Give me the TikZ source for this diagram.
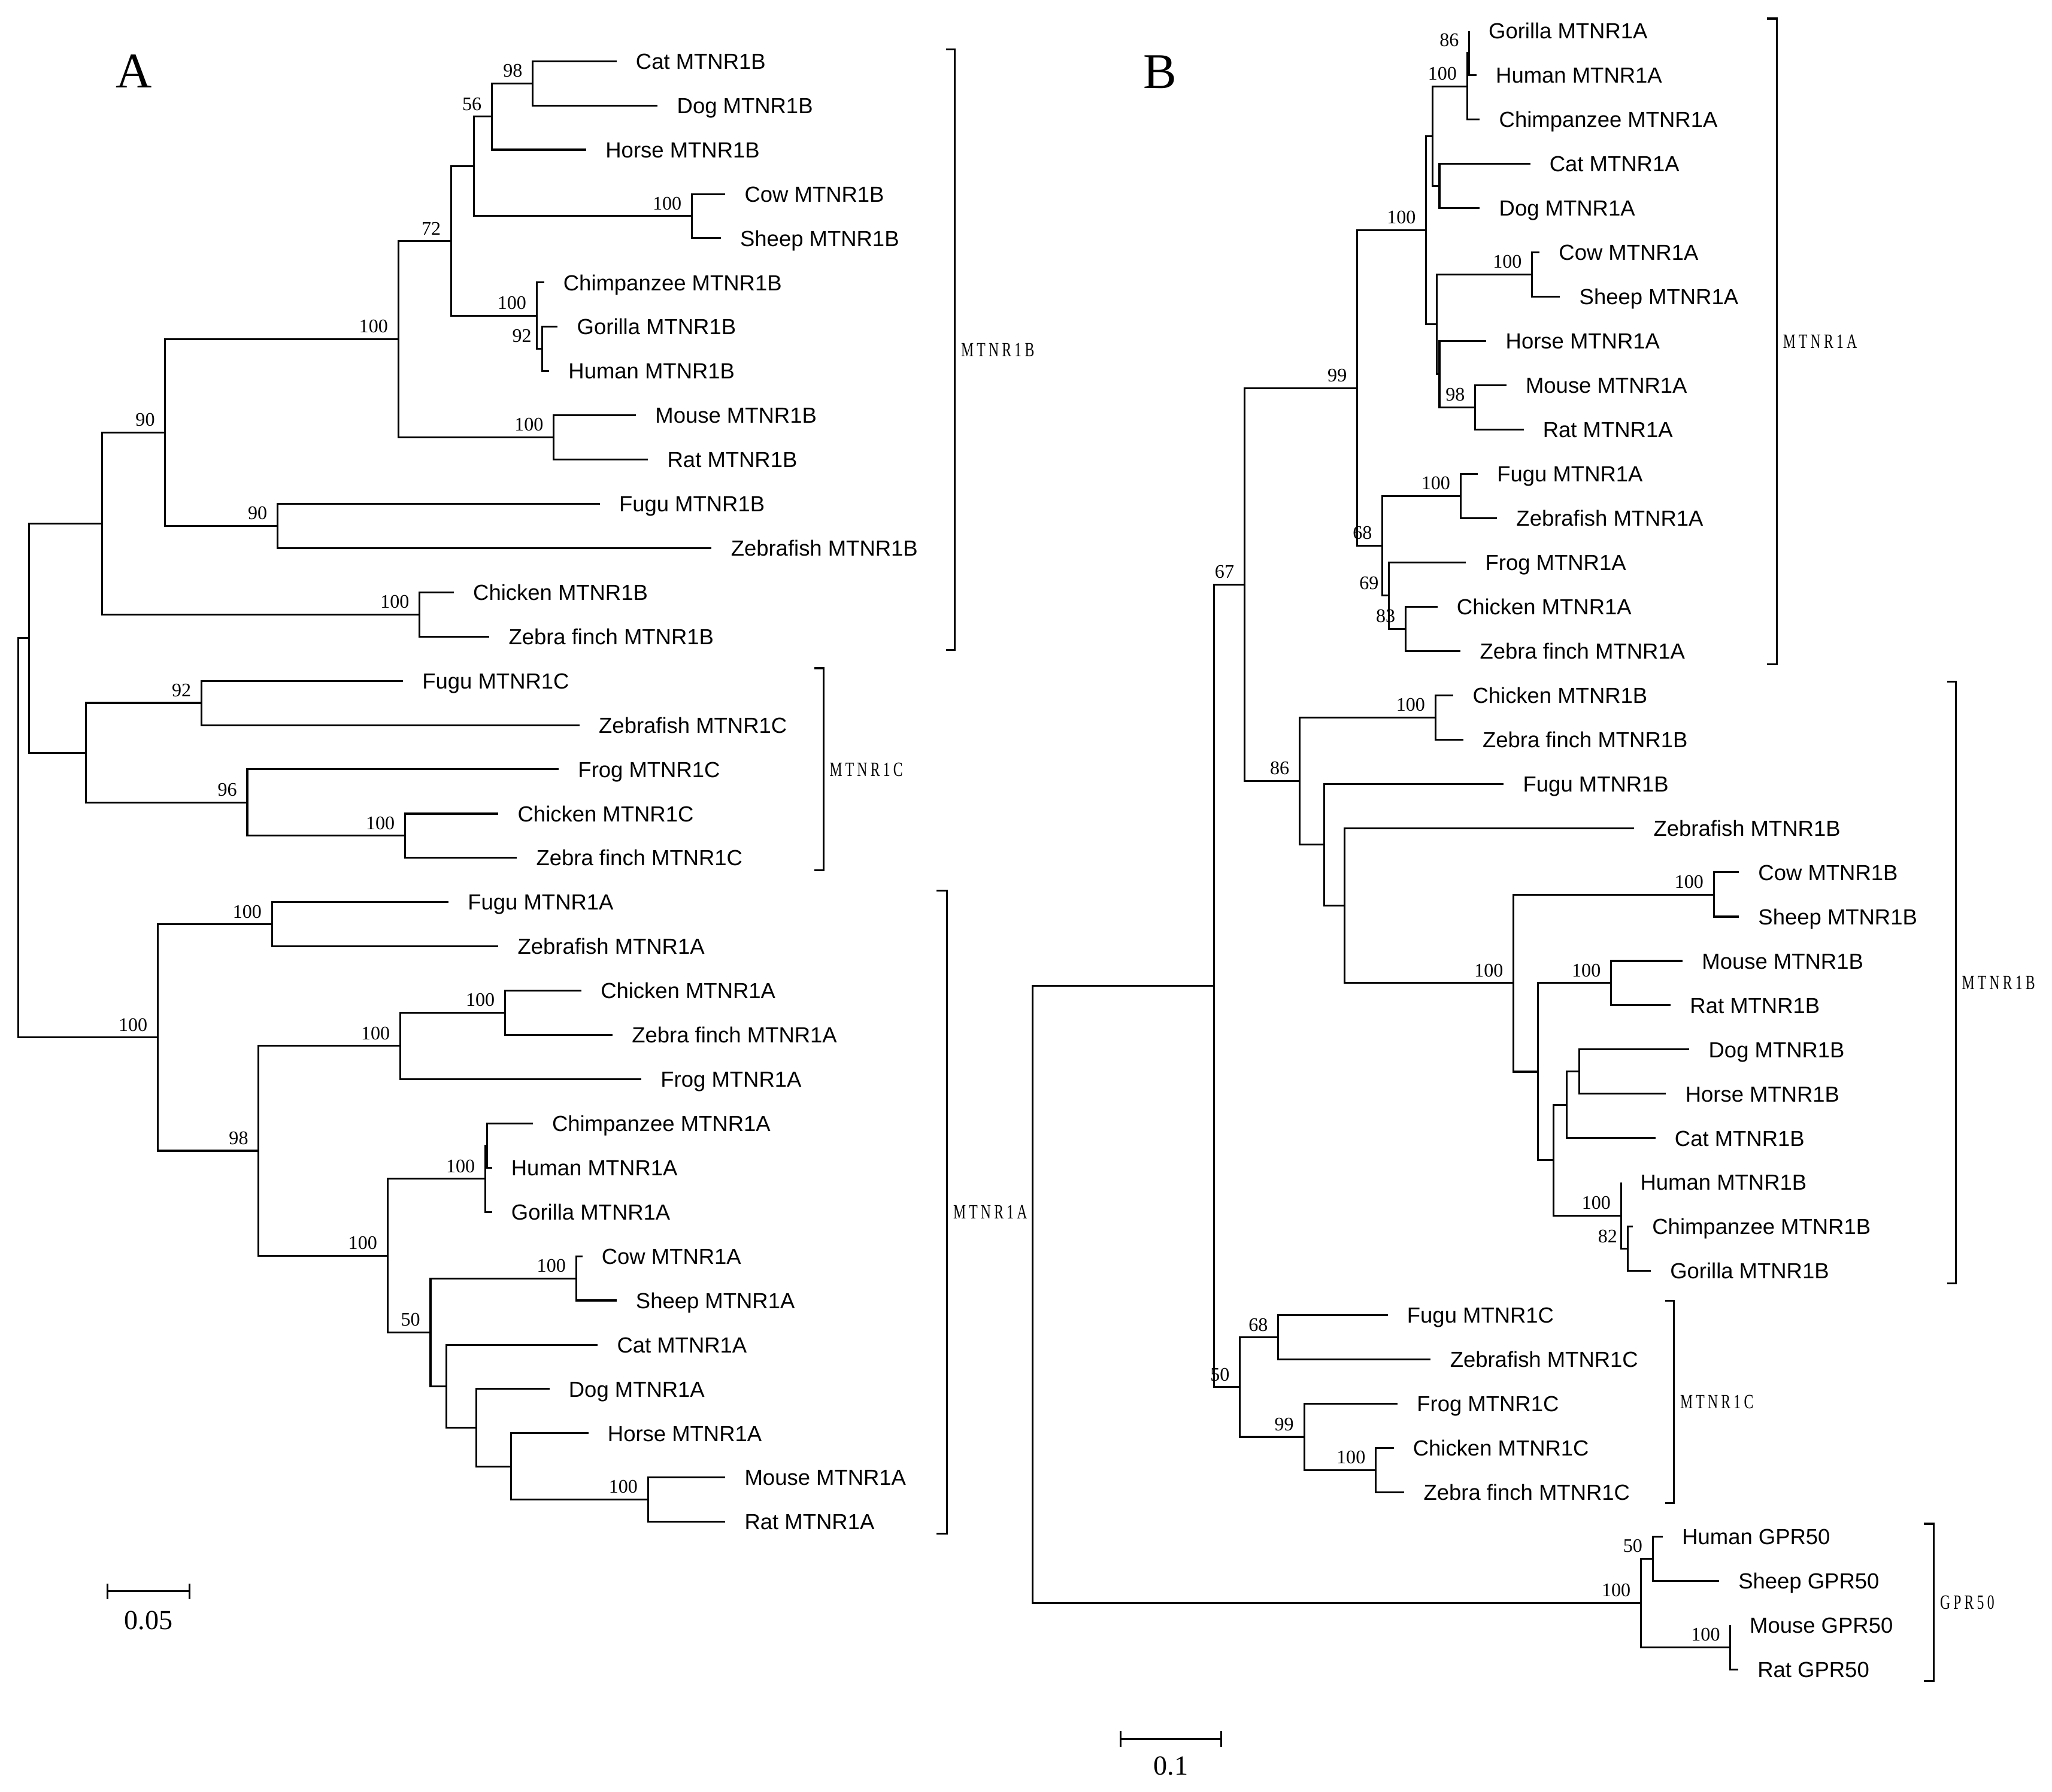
\documentclass[tikz,border=0pt]{standalone}
\usepackage{fontspec}
\usepackage{graphicx}
\setmainfont{Liberation Serif}
\newfontfamily\taxonfont{Liberation Sans}
\newfontfamily\cladefont[LetterSpace=22]{Liberation Serif}
\usetikzlibrary{positioning}
\newcommand{\cladetext}[1]{\scalebox{0.7}[1]{\cladefont\fontsize{7.7}{9}\selectfont #1}}
\begin{document}
\begin{tikzpicture}[x=0.5pt,y=-0.5pt,line width=0.7pt,
	taxon/.style={font=\taxonfont\fontsize{8.3}{10}\selectfont,text height=6pt,text depth=0pt},
	boot/.style={anchor=south east,xshift=-3.6pt,yshift=2pt,font=\fontsize{7.3}{8}\selectfont},
	clade/.style={text height=5.1pt,text depth=0pt},
	panel/.style={anchor=base,font=\fontsize{19}{22}\selectfont},
	scalelab/.style={anchor=base,font=\fontsize{10.5}{12}\selectfont}]
		\tikzstyle{every node}+=[inner sep=0pt]
		\useasboundingbox (0,0) rectangle (1560,1362);
		\node[panel] (pA) at (102,66.8) {A};
		\node[panel] (pB) at (882,67) {B};
		% tree A
		\coordinate (tA0) at (468.7,46.5);
		\coordinate (tA1) at (500,80.2);
		\coordinate (tA2) at (445.7,113.8);
		\coordinate (tA3) at (551.4,147.5);
		\coordinate (tA4) at (548,181.1);
		\coordinate (tA5) at (413.6,214.8);
		\coordinate (tA6) at (424,248.4);
		\coordinate (tA7) at (417.5,282.1);
		\coordinate (tA8) at (483.5,315.7);
		\coordinate (tA9) at (492.7,349.4);
		\coordinate (tA10) at (456,383);
		\coordinate (tA11) at (541,416.7);
		\coordinate (tA12) at (345,450.3);
		\coordinate (tA13) at (372,484);
		\coordinate (tA14) at (306.4,517.6);
		\coordinate (tA15) at (440.6,551.3);
		\coordinate (tA16) at (424.8,584.9);
		\coordinate (tA17) at (378.9,618.6);
		\coordinate (tA18) at (393,652.2);
		\coordinate (tA19) at (341,685.9);
		\coordinate (tA20) at (378.9,719.5);
		\coordinate (tA21) at (442,753.2);
		\coordinate (tA22) at (465.7,786.8);
		\coordinate (tA23) at (487.6,820.5);
		\coordinate (tA24) at (405,854.1);
		\coordinate (tA25) at (374,887.8);
		\coordinate (tA26) at (374,921.4);
		\coordinate (tA27) at (442.7,955.1);
		\coordinate (tA28) at (468.7,988.7);
		\coordinate (tA29) at (454.4,1022.4);
		\coordinate (tA30) at (417.7,1056);
		\coordinate (tA31) at (447.3,1089.7);
		\coordinate (tA32) at (551.4,1123.3);
		\coordinate (tA33) at (551.4,1157);
		\node[taxon,right=7pt of tA0] (lA0) {Cat MTNR1B};
		\node[taxon,right=7pt of tA1] (lA1) {Dog MTNR1B};
		\node[taxon,right=7pt of tA2] (lA2) {Horse MTNR1B};
		\node[taxon,right=7pt of tA3] (lA3) {Cow MTNR1B};
		\node[taxon,right=7pt of tA4] (lA4) {Sheep MTNR1B};
		\node[taxon,right=7pt of tA5] (lA5) {Chimpanzee MTNR1B};
		\node[taxon,right=7pt of tA6] (lA6) {Gorilla MTNR1B};
		\node[taxon,right=7pt of tA7] (lA7) {Human MTNR1B};
		\node[taxon,right=7pt of tA8] (lA8) {Mouse MTNR1B};
		\node[taxon,right=7pt of tA9] (lA9) {Rat MTNR1B};
		\node[taxon,right=7pt of tA10] (lA10) {Fugu MTNR1B};
		\node[taxon,right=7pt of tA11] (lA11) {Zebrafish MTNR1B};
		\node[taxon,right=7pt of tA12] (lA12) {Chicken MTNR1B};
		\node[taxon,right=7pt of tA13] (lA13) {Zebra finch MTNR1B};
		\node[taxon,right=7pt of tA14] (lA14) {Fugu MTNR1C};
		\node[taxon,right=7pt of tA15] (lA15) {Zebrafish MTNR1C};
		\node[taxon,right=7pt of tA16] (lA16) {Frog MTNR1C};
		\node[taxon,right=7pt of tA17] (lA17) {Chicken MTNR1C};
		\node[taxon,right=7pt of tA18] (lA18) {Zebra finch MTNR1C};
		\node[taxon,right=7pt of tA19] (lA19) {Fugu MTNR1A};
		\node[taxon,right=7pt of tA20] (lA20) {Zebrafish MTNR1A};
		\node[taxon,right=7pt of tA21] (lA21) {Chicken MTNR1A};
		\node[taxon,right=7pt of tA22] (lA22) {Zebra finch MTNR1A};
		\node[taxon,right=7pt of tA23] (lA23) {Frog MTNR1A};
		\node[taxon,right=7pt of tA24] (lA24) {Chimpanzee MTNR1A};
		\node[taxon,right=7pt of tA25] (lA25) {Human MTNR1A};
		\node[taxon,right=7pt of tA26] (lA26) {Gorilla MTNR1A};
		\node[taxon,right=7pt of tA27] (lA27) {Cow MTNR1A};
		\node[taxon,right=7pt of tA28] (lA28) {Sheep MTNR1A};
		\node[taxon,right=7pt of tA29] (lA29) {Cat MTNR1A};
		\node[taxon,right=7pt of tA30] (lA30) {Dog MTNR1A};
		\node[taxon,right=7pt of tA31] (lA31) {Horse MTNR1A};
		\node[taxon,right=7pt of tA32] (lA32) {Mouse MTNR1A};
		\node[taxon,right=7pt of tA33] (lA33) {Rat MTNR1A};
		\coordinate (aCD) at (405,63.3);
		\coordinate (aCDH) at (374,88.6);
		\coordinate (aCS) at (526,164.3);
		\coordinate (aLau) at (360.5,126.4);
		\coordinate (aGH) at (412,265.2);
		\coordinate (aPri) at (408,240);
		\coordinate (aMam) at (343,183.2);
		\coordinate (aMR) at (421,332.5);
		\coordinate (aEut) at (302.8,257.9);
		\coordinate (aFish) at (211,399.8);
		\coordinate (aOst) at (125.6,328.9);
		\coordinate (aBird) at (319,467.1);
		\coordinate (aB) at (77.6,398);
		\coordinate (cFish) at (153.2,534.4);
		\coordinate (cBird) at (308,635.4);
		\coordinate (cTet) at (188,610.1);
		\coordinate (cC) at (65.4,572.3);
		\coordinate (aBC) at (22,485.1);
		\coordinate (mFish) at (206.8,702.7);
		\coordinate (mBird) at (384,770);
		\coordinate (mSau) at (304.3,795.2);
		\coordinate (mCH) at (370.5,870.9);
		\coordinate (mPri) at (369,896.2);
		\coordinate (mCS) at (438,971.9);
		\coordinate (mMR) at (492.7,1140.1);
		\coordinate (mHMR) at (388.6,1114.9);
		\coordinate (mDHMR) at (362,1085.5);
		\coordinate (mCDHMR) at (339.5,1053.9);
		\coordinate (mLau) at (327.3,1012.9);
		\coordinate (mEut) at (294.6,954.6);
		\coordinate (mTet) at (196.6,874.9);
		\coordinate (mA) at (120,788.8);
		\coordinate (rootA) at (14,637);
		\draw (aCD) |- (tA0);
		\draw (aCD) |- (tA1);
		\draw (aCDH) |- (aCD);
		\draw (aCDH) |- (tA2);
		\draw (aCS) |- (tA3);
		\draw (aCS) |- (tA4);
		\draw (aLau) |- (aCDH);
		\draw (aLau) |- (aCS);
		\draw (aGH) |- (tA6);
		\draw (aGH) |- (tA7);
		\draw (aPri) |- (tA5);
		\draw (aPri) |- (aGH);
		\draw (aMam) |- (aLau);
		\draw (aMam) |- (aPri);
		\draw (aMR) |- (tA8);
		\draw (aMR) |- (tA9);
		\draw (aEut) |- (aMam);
		\draw (aEut) |- (aMR);
		\draw (aFish) |- (tA10);
		\draw (aFish) |- (tA11);
		\draw (aOst) |- (aEut);
		\draw (aOst) |- (aFish);
		\draw (aBird) |- (tA12);
		\draw (aBird) |- (tA13);
		\draw (aB) |- (aOst);
		\draw (aB) |- (aBird);
		\draw (cFish) |- (tA14);
		\draw (cFish) |- (tA15);
		\draw (cBird) |- (tA17);
		\draw (cBird) |- (tA18);
		\draw (cTet) |- (tA16);
		\draw (cTet) |- (cBird);
		\draw (cC) |- (cFish);
		\draw (cC) |- (cTet);
		\draw (aBC) |- (aB);
		\draw (aBC) |- (cC);
		\draw (mFish) |- (tA19);
		\draw (mFish) |- (tA20);
		\draw (mBird) |- (tA21);
		\draw (mBird) |- (tA22);
		\draw (mSau) |- (mBird);
		\draw (mSau) |- (tA23);
		\draw (mCH) |- (tA24);
		\draw (mCH) |- (tA25);
		\draw (mPri) |- (mCH);
		\draw (mPri) |- (tA26);
		\draw (mCS) |- (tA27);
		\draw (mCS) |- (tA28);
		\draw (mMR) |- (tA32);
		\draw (mMR) |- (tA33);
		\draw (mHMR) |- (tA31);
		\draw (mHMR) |- (mMR);
		\draw (mDHMR) |- (tA30);
		\draw (mDHMR) |- (mHMR);
		\draw (mCDHMR) |- (tA29);
		\draw (mCDHMR) |- (mDHMR);
		\draw (mLau) |- (mCS);
		\draw (mLau) |- (mCDHMR);
		\draw (mEut) |- (mPri);
		\draw (mEut) |- (mLau);
		\draw (mTet) |- (mSau);
		\draw (mTet) |- (mEut);
		\draw (mA) |- (mFish);
		\draw (mA) |- (mTet);
		\draw (rootA) |- (aBC);
		\draw (rootA) |- (mA);
		\node[boot] (bsA1) at (aCD) {98};
		\node[boot] (bsA2) at (aCDH) {56};
		\node[boot] (bsA3) at (aCS) {100};
		\node[boot] (bsA4) at (aGH) {92};
		\node[boot] (bsA5) at (aPri) {100};
		\node[boot] (bsA6) at (aMam) {72};
		\node[boot] (bsA7) at (aMR) {100};
		\node[boot] (bsA8) at (aEut) {100};
		\node[boot] (bsA9) at (aFish) {90};
		\node[boot] (bsA10) at (aOst) {90};
		\node[boot] (bsA11) at (aBird) {100};
		\node[boot] (bsA12) at (cFish) {92};
		\node[boot] (bsA13) at (cBird) {100};
		\node[boot] (bsA14) at (cTet) {96};
		\node[boot] (bsA15) at (mFish) {100};
		\node[boot] (bsA16) at (mBird) {100};
		\node[boot] (bsA17) at (mSau) {100};
		\node[boot] (bsA18) at (mPri) {100};
		\node[boot] (bsA19) at (mCS) {100};
		\node[boot] (bsA20) at (mMR) {100};
		\node[boot] (bsA21) at (mLau) {50};
		\node[boot] (bsA22) at (mEut) {100};
		\node[boot] (bsA23) at (mTet) {98};
		\node[boot] (bsA24) at (mA) {100};
		\draw (719,37.6) -- (726,37.6) -- node[clade,right=2pt] (cA1) {\cladetext{MTNR1B}} (726,494) -- (719,494);
		\draw (619,508) -- (626,508) -- node[clade,right=2pt] (cA2) {\cladetext{MTNR1C}} (626,661.7) -- (619,661.7);
		\draw (712,677.2) -- (720,677.2) -- node[clade,right=2pt] (cA3) {\cladetext{MTNR1A}} (720,1165.8) -- (712,1165.8);
		\draw (81.7,1203.8) -- (81.7,1215.8) (81.7,1209.8) -- (144,1209.8) (144,1203.8) -- (144,1215.8);
		\node[scalelab] (sA) at (112.9,1238.7) {0.05};
		% tree B
		\coordinate (tB0) at (1117,23.5);
		\coordinate (tB1) at (1122.5,57.2);
		\coordinate (tB2) at (1125,90.8);
		\coordinate (tB3) at (1163.3,124.5);
		\coordinate (tB4) at (1125,158.2);
		\coordinate (tB5) at (1170.4,191.9);
		\coordinate (tB6) at (1186,225.5);
		\coordinate (tB7) at (1130,259.2);
		\coordinate (tB8) at (1145.2,292.9);
		\coordinate (tB9) at (1158.3,326.5);
		\coordinate (tB10) at (1123.5,360.2);
		\coordinate (tB11) at (1138.1,393.9);
		\coordinate (tB12) at (1114.5,427.5);
		\coordinate (tB13) at (1092.8,461.2);
		\coordinate (tB14) at (1110.4,494.9);
		\coordinate (tB15) at (1104.9,528.6);
		\coordinate (tB16) at (1112.4,562.2);
		\coordinate (tB17) at (1143.2,595.9);
		\coordinate (tB18) at (1242.4,629.6);
		\coordinate (tB19) at (1322,663.2);
		\coordinate (tB20) at (1322,696.9);
		\coordinate (tB21) at (1279.2,730.6);
		\coordinate (tB22) at (1270.1,764.2);
		\coordinate (tB23) at (1284.3,797.9);
		\coordinate (tB24) at (1266.6,831.6);
		\coordinate (tB25) at (1258.5,865.3);
		\coordinate (tB26) at (1232.4,898.9);
		\coordinate (tB27) at (1241.4,932.6);
		\coordinate (tB28) at (1255,966.3);
		\coordinate (tB29) at (1055,999.9);
		\coordinate (tB30) at (1087.7,1033.6);
		\coordinate (tB31) at (1062.5,1067.3);
		\coordinate (tB32) at (1059.5,1100.9);
		\coordinate (tB33) at (1067.6,1134.6);
		\coordinate (tB34) at (1264.1,1168.3);
		\coordinate (tB35) at (1306.9,1202);
		\coordinate (tB36) at (1315.5,1235.6);
		\coordinate (tB37) at (1321.5,1269.3);
		\node[taxon,right=7pt of tB0] (lB0) {Gorilla MTNR1A};
		\node[taxon,right=7pt of tB1] (lB1) {Human MTNR1A};
		\node[taxon,right=7pt of tB2] (lB2) {Chimpanzee MTNR1A};
		\node[taxon,right=7pt of tB3] (lB3) {Cat MTNR1A};
		\node[taxon,right=7pt of tB4] (lB4) {Dog MTNR1A};
		\node[taxon,right=7pt of tB5] (lB5) {Cow MTNR1A};
		\node[taxon,right=7pt of tB6] (lB6) {Sheep MTNR1A};
		\node[taxon,right=7pt of tB7] (lB7) {Horse MTNR1A};
		\node[taxon,right=7pt of tB8] (lB8) {Mouse MTNR1A};
		\node[taxon,right=7pt of tB9] (lB9) {Rat MTNR1A};
		\node[taxon,right=7pt of tB10] (lB10) {Fugu MTNR1A};
		\node[taxon,right=7pt of tB11] (lB11) {Zebrafish MTNR1A};
		\node[taxon,right=7pt of tB12] (lB12) {Frog MTNR1A};
		\node[taxon,right=7pt of tB13] (lB13) {Chicken MTNR1A};
		\node[taxon,right=7pt of tB14] (lB14) {Zebra finch MTNR1A};
		\node[taxon,right=7pt of tB15] (lB15) {Chicken MTNR1B};
		\node[taxon,right=7pt of tB16] (lB16) {Zebra finch MTNR1B};
		\node[taxon,right=7pt of tB17] (lB17) {Fugu MTNR1B};
		\node[taxon,right=7pt of tB18] (lB18) {Zebrafish MTNR1B};
		\node[taxon,right=7pt of tB19] (lB19) {Cow MTNR1B};
		\node[taxon,right=7pt of tB20] (lB20) {Sheep MTNR1B};
		\node[taxon,right=7pt of tB21] (lB21) {Mouse MTNR1B};
		\node[taxon,right=7pt of tB22] (lB22) {Rat MTNR1B};
		\node[taxon,right=7pt of tB23] (lB23) {Dog MTNR1B};
		\node[taxon,right=7pt of tB24] (lB24) {Horse MTNR1B};
		\node[taxon,right=7pt of tB25] (lB25) {Cat MTNR1B};
		\node[taxon,right=7pt of tB26] (lB26) {Human MTNR1B};
		\node[taxon,right=7pt of tB27] (lB27) {Chimpanzee MTNR1B};
		\node[taxon,right=7pt of tB28] (lB28) {Gorilla MTNR1B};
		\node[taxon,right=7pt of tB29] (lB29) {Fugu MTNR1C};
		\node[taxon,right=7pt of tB30] (lB30) {Zebrafish MTNR1C};
		\node[taxon,right=7pt of tB31] (lB31) {Frog MTNR1C};
		\node[taxon,right=7pt of tB32] (lB32) {Chicken MTNR1C};
		\node[taxon,right=7pt of tB33] (lB33) {Zebra finch MTNR1C};
		\node[taxon,right=7pt of tB34] (lB34) {Human GPR50};
		\node[taxon,right=7pt of tB35] (lB35) {Sheep GPR50};
		\node[taxon,right=7pt of tB36] (lB36) {Mouse GPR50};
		\node[taxon,right=7pt of tB37] (lB37) {Rat GPR50};
		\coordinate (bGH) at (1117,40.3);
		\coordinate (bPri) at (1115.4,65.6);
		\coordinate (bCD) at (1094.3,141.3);
		\coordinate (bPCD) at (1089.2,103.5);
		\coordinate (bCS) at (1164.8,208.7);
		\coordinate (bMR) at (1121.5,309.7);
		\coordinate (bHMR) at (1094.3,284.4);
		\coordinate (bCSHMR) at (1092.3,246.6);
		\coordinate (bMam) at (1084.2,175);
		\coordinate (bFish) at (1110.4,377);
		\coordinate (bBird) at (1068.6,478);
		\coordinate (bTet) at (1056,452.8);
		\coordinate (bNM) at (1051,414.9);
		\coordinate (bA) at (1031.8,295);
		\coordinate (bBirdB) at (1091.3,545.4);
		\coordinate (bCSB) at (1302.9,680.1);
		\coordinate (bMRB) at (1224.8,747.4);
		\coordinate (bDHB) at (1200.6,814.7);
		\coordinate (bDHCB) at (1191,840);
		\coordinate (bCGB) at (1237.4,949.4);
		\coordinate (bPriB) at (1232.4,924.2);
		\coordinate (bLauB) at (1181,882.1);
		\coordinate (bEuaB) at (1169.4,814.8);
		\coordinate (bMamB) at (1150.7,747.4);
		\coordinate (bZMB) at (1022.2,688.5);
		\coordinate (bFZMB) at (1006.6,642.2);
		\coordinate (bB) at (988,593.8);
		\coordinate (bAB) at (946.1,444.4);
		\coordinate (bFishC) at (971.8,1016.8);
		\coordinate (bBirdC) at (1045.9,1117.8);
		\coordinate (bTetC) at (991.5,1092.5);
		\coordinate (bC) at (942.6,1054.6);
		\coordinate (bABC) at (923,749.5);
		\coordinate (bHS) at (1256.5,1185.1);
		\coordinate (bMRG) at (1315.5,1252.5);
		\coordinate (bG) at (1247.5,1218.8);
		\coordinate (rootB) at (784.9,984.2);
		\draw (bGH) |- (tB0);
		\draw (bGH) |- (tB1);
		\draw (bPri) |- (bGH);
		\draw (bPri) |- (tB2);
		\draw (bCD) |- (tB3);
		\draw (bCD) |- (tB4);
		\draw (bPCD) |- (bPri);
		\draw (bPCD) |- (bCD);
		\draw (bCS) |- (tB5);
		\draw (bCS) |- (tB6);
		\draw (bMR) |- (tB8);
		\draw (bMR) |- (tB9);
		\draw (bHMR) |- (tB7);
		\draw (bHMR) |- (bMR);
		\draw (bCSHMR) |- (bCS);
		\draw (bCSHMR) |- (bHMR);
		\draw (bMam) |- (bPCD);
		\draw (bMam) |- (bCSHMR);
		\draw (bFish) |- (tB10);
		\draw (bFish) |- (tB11);
		\draw (bBird) |- (tB13);
		\draw (bBird) |- (tB14);
		\draw (bTet) |- (tB12);
		\draw (bTet) |- (bBird);
		\draw (bNM) |- (bFish);
		\draw (bNM) |- (bTet);
		\draw (bA) |- (bMam);
		\draw (bA) |- (bNM);
		\draw (bBirdB) |- (tB15);
		\draw (bBirdB) |- (tB16);
		\draw (bCSB) |- (tB19);
		\draw (bCSB) |- (tB20);
		\draw (bMRB) |- (tB21);
		\draw (bMRB) |- (tB22);
		\draw (bDHB) |- (tB23);
		\draw (bDHB) |- (tB24);
		\draw (bDHCB) |- (bDHB);
		\draw (bDHCB) |- (tB25);
		\draw (bCGB) |- (tB27);
		\draw (bCGB) |- (tB28);
		\draw (bPriB) |- (tB26);
		\draw (bPriB) |- (bCGB);
		\draw (bLauB) |- (bDHCB);
		\draw (bLauB) |- (bPriB);
		\draw (bEuaB) |- (bMRB);
		\draw (bEuaB) |- (bLauB);
		\draw (bMamB) |- (bCSB);
		\draw (bMamB) |- (bEuaB);
		\draw (bZMB) |- (tB18);
		\draw (bZMB) |- (bMamB);
		\draw (bFZMB) |- (tB17);
		\draw (bFZMB) |- (bZMB);
		\draw (bB) |- (bBirdB);
		\draw (bB) |- (bFZMB);
		\draw (bAB) |- (bA);
		\draw (bAB) |- (bB);
		\draw (bFishC) |- (tB29);
		\draw (bFishC) |- (tB30);
		\draw (bBirdC) |- (tB32);
		\draw (bBirdC) |- (tB33);
		\draw (bTetC) |- (tB31);
		\draw (bTetC) |- (bBirdC);
		\draw (bC) |- (bFishC);
		\draw (bC) |- (bTetC);
		\draw (bABC) |- (bAB);
		\draw (bABC) |- (bC);
		\draw (bHS) |- (tB34);
		\draw (bHS) |- (tB35);
		\draw (bMRG) |- (tB36);
		\draw (bMRG) |- (tB37);
		\draw (bG) |- (bHS);
		\draw (bG) |- (bMRG);
		\draw (rootB) |- (bABC);
		\draw (rootB) |- (bG);
		\node[boot] (bsB1) at (bGH) {86};
		\node[boot] (bsB2) at (bPri) {100};
		\node[boot] (bsB3) at (bCS) {100};
		\node[boot] (bsB4) at (bMR) {98};
		\node[boot] (bsB5) at (bMam) {100};
		\node[boot] (bsB6) at (bFish) {100};
		\node[boot] (bsB7) at (bBird) {83};
		\node[boot] (bsB8) at (bTet) {69};
		\node[boot] (bsB9) at (bNM) {68};
		\node[boot] (bsB10) at (bA) {99};
		\node[boot] (bsB11) at (bBirdB) {100};
		\node[boot] (bsB12) at (bCSB) {100};
		\node[boot] (bsB13) at (bMRB) {100};
		\node[boot] (bsB14) at (bCGB) {82};
		\node[boot] (bsB15) at (bPriB) {100};
		\node[boot] (bsB16) at (bMamB) {100};
		\node[boot] (bsB17) at (bB) {86};
		\node[boot] (bsB18) at (bAB) {67};
		\node[boot] (bsB19) at (bFishC) {68};
		\node[boot] (bsB20) at (bBirdC) {100};
		\node[boot] (bsB21) at (bTetC) {99};
		\node[boot] (bsB22) at (bC) {50};
		\node[boot] (bsB23) at (bHS) {50};
		\node[boot] (bsB24) at (bMRG) {100};
		\node[boot] (bsB25) at (bG) {100};
		\draw (1343.2,14.1) -- (1350.8,14.1) -- node[clade,right=2pt] (cB1) {\cladetext{MTNR1A}} (1350.8,505) -- (1343.2,505);
		\draw (1480.3,518.3) -- (1486.8,518.3) -- node[clade,right=2pt] (cB2) {\cladetext{MTNR1B}} (1486.8,975.6) -- (1480.3,975.6);
		\draw (1266.1,988.9) -- (1272.7,988.9) -- node[clade,right=2pt] (cB3) {\cladetext{MTNR1C}} (1272.7,1142.7) -- (1266.1,1142.7);
		\draw (1462.6,1158.5) -- (1470.2,1158.5) -- node[clade,right=2pt] (cB4) {\cladetext{GPR50}} (1470.2,1277.9) -- (1462.6,1277.9);
		\draw (851.9,1316.1) -- (851.9,1328.1) (851.9,1322.1) -- (928.5,1322.1) (928.5,1316.1) -- (928.5,1328.1);
		\node[scalelab] (sB) at (890.2,1349.6) {0.1};
	\end{tikzpicture}
\end{document}
